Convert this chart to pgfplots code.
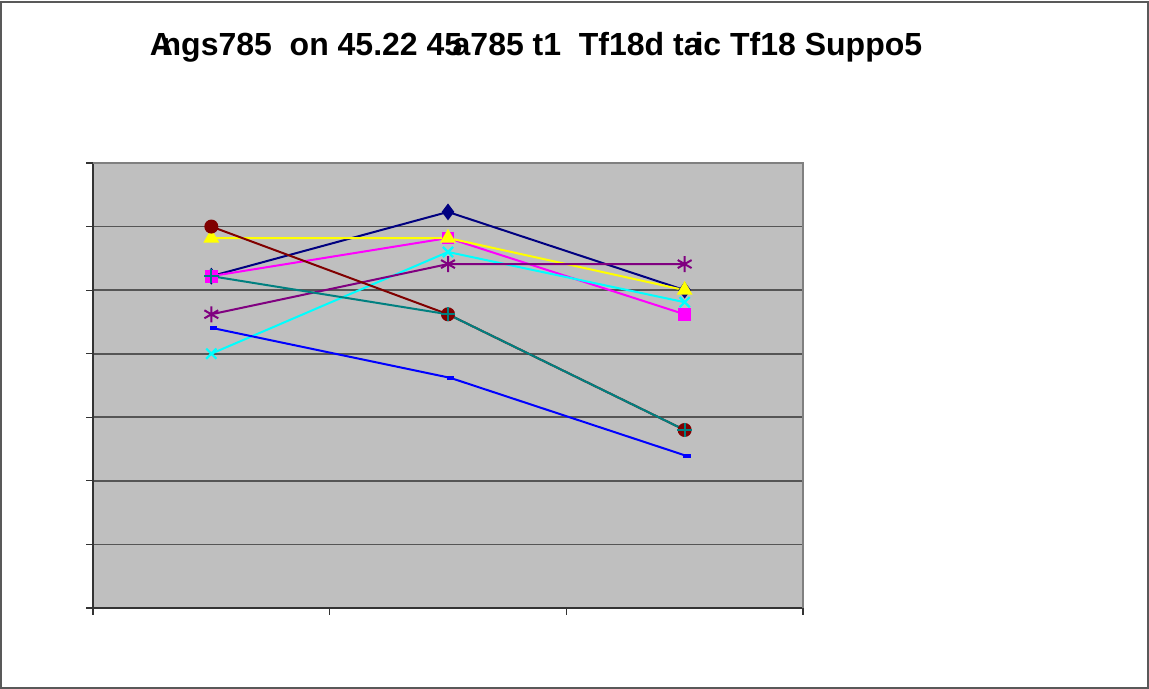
\documentclass[border=0pt]{standalone}
\usepackage{fontspec}
\setmainfont{Liberation Sans}
\newfontfamily\titlefont{Liberation Sans Bold}
\usepackage{pgfplots}
\pgfplotsset{compat=1.18}
\definecolor{gridc}{HTML}{555555}
\begin{document}
\begin{tikzpicture}
\useasboundingbox (0,0) rectangle (574.5pt,344.5pt);
\draw[line width=1.2pt, black!65] (0.6pt,0.6pt) rectangle (573.9pt,343.4pt);
\node[font=\titlefont\fontsize{16}{17}\selectfont, inner sep=0pt] at (268pt,321pt)
  {A\kern-0.35em ngs785~~on 45.22 45\kern-0.3em a785 t1~~Tf18d ta\kern-0.22em ic Tf18 Suppo5};
\begin{axis}[
  at={(46.5pt,40.5pt)}, anchor=south west,
  scale only axis, width=355pt, height=222.5pt,
  xmin=0.5, xmax=3.5, ymin=0, ymax=7,
  xtick={0.5,1.5,2.5,3.5}, xticklabels={},
  ytick={0,1,...,7}, yticklabels={},
  tick align=outside, major tick length=3.5pt,
  tick style={black!80, line width=0.6pt},
  axis background/.style={fill=black!25},
  ymajorgrids, grid style={gridc, line width=0.8pt},
  axis x line*=bottom, axis y line*=left,
  axis line style={black!80, line width=0.8pt},
  every axis plot/.append style={line width=1pt},
  clip=false,
]
\draw[black!50, line width=0.6pt] (axis cs:0.5,7) -- (axis cs:3.5,7) -- (axis cs:3.5,0);
\addplot[color={rgb,255:red,0;green,0;blue,128}, mark=diamond*, mark size=3.4pt] coordinates {(1,5.22) (2,6.23) (3,5.0)};
\addplot[color={rgb,255:red,255;green,0;blue,255}, mark=square*, mark size=2.7pt] coordinates {(1,5.22) (2,5.82) (3,4.62)};
\addplot[color={rgb,255:red,255;green,255;blue,0}, mark=triangle*, mark size=3.6pt] coordinates {(1,5.82) (2,5.82) (3,5.0)};
\addplot[color={rgb,255:red,0;green,255;blue,255}, mark=x, mark size=3.6pt, mark options={line width=1.1pt}] coordinates {(1,4.0) (2,5.6) (3,4.81)};
\addplot[color={rgb,255:red,128;green,0;blue,128}, mark=asterisk, mark size=4pt, mark options={line width=1pt}] coordinates {(1,4.62) (2,5.41) (3,5.41)};
\addplot[color={rgb,255:red,128;green,0;blue,0}, mark=*, mark size=3pt] coordinates {(1,6.0) (2,4.62) (3,2.80)};
\addplot[color={rgb,255:red,0;green,128;blue,128}, mark=+, mark size=3.6pt, mark options={line width=1.1pt}] coordinates {(1,5.22) (2,4.62) (3,2.80)};
\addplot[color={rgb,255:red,0;green,0;blue,255}, mark=-, mark size=1.8pt, mark options={line width=2pt}] coordinates {(1.01,4.40) (2.01,3.62) (3.01,2.39)};
\end{axis}
\end{tikzpicture}
\end{document}
